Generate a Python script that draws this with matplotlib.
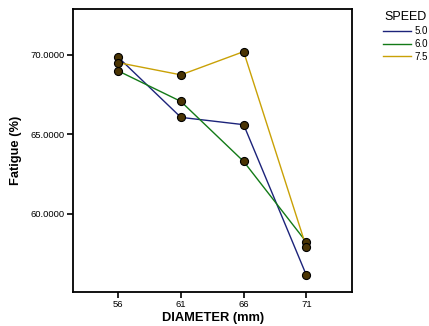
import matplotlib
matplotlib.use("Agg")
import matplotlib.pyplot as plt
from matplotlib.lines import Line2D

plt.rcParams["font.family"] = ["Liberation Sans", "DejaVu Sans"]

diameter = [56, 61, 66, 71]
speed_labels = ["5.0", "6.0", "7.5"]
fatigue_50 = [69.84, 66.06, 65.60, 56.14]
fatigue_60 = [68.98, 67.06, 63.29, 58.22]
fatigue_75 = [69.50, 68.73, 70.19, 57.89]
y_ticks = [60.0, 65.0, 70.0]

line_colors = ["#1c237a", "#137a17", "#c9a106"]
series = [fatigue_50, fatigue_60, fatigue_75]

fig = plt.figure(figsize=(4.29, 3.26), dpi=100)
ax = fig.add_axes([0.170, 0.104, 0.651, 0.868])

for vals, col in zip(series, line_colors):
    ax.plot(diameter, vals, color=col, linewidth=1.0, zorder=2)
for vals in series:
    ax.plot(diameter, vals, linestyle="none", marker="o", markersize=5.8,
            markerfacecolor="#4a3404", markeredgecolor="black", markeredgewidth=0.8, zorder=3)

ax.set_xlim(52.4, 74.65)
ax.set_ylim(55.08, 72.86)
ax.set_xticks(diameter)
ax.set_xticklabels([str(d) for d in diameter])
ax.set_yticks(y_ticks)
ax.set_yticklabels([f"{v:.4f}" for v in y_ticks])
ax.tick_params(labelsize=6.8, length=4, width=1.2, direction="out", pad=2)
for s in ax.spines.values():
    s.set_linewidth(1.3)

ax.set_xlabel("DIAMETER (mm)", fontsize=9.3, fontweight="bold", labelpad=1.5)
ax.set_ylabel("Fatigue (%)", fontsize=9.3, fontweight="bold", labelpad=6)

handles = [Line2D([], [], color=c, linewidth=1.0) for c in line_colors]
fig.legend(handles, speed_labels, title="SPEED", loc="upper left",
           bbox_to_anchor=(0.893, 0.966), frameon=False, fontsize=7,
           title_fontsize=9, handlelength=2.9, handletextpad=0.3,
           labelspacing=0.3, borderpad=0.0, borderaxespad=0.0)

fig.savefig("out.png", dpi=100)
